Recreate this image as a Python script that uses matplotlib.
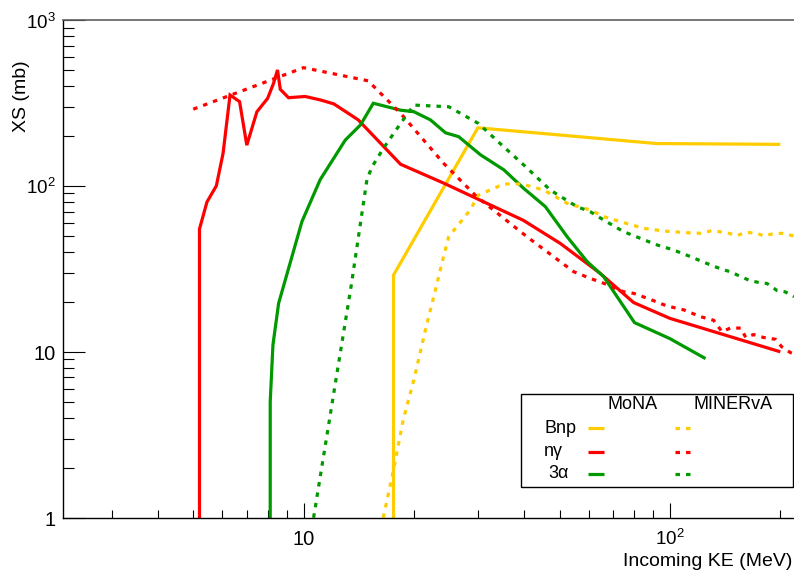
import matplotlib
matplotlib.use("Agg")
import matplotlib.pyplot as plt
from matplotlib.transforms import blended_transform_factory, ScaledTranslation
from matplotlib.ticker import LogLocator, NullFormatter
from matplotlib.lines import Line2D
from matplotlib.patches import Rectangle

plt.rcParams['font.family'] = ['Liberation Sans', 'DejaVu Sans']
plt.rcParams['mathtext.fontset'] = 'custom'
plt.rcParams['mathtext.rm'] = 'Liberation Sans'
plt.rcParams['mathtext.it'] = 'Liberation Sans:italic'
plt.rcParams['mathtext.bf'] = 'Liberation Sans:bold'

# ---------------- cross sections (mb) vs incoming kinetic energy (MeV) ----------------
# MoNA
mona_bnp_E = [17.6, 17.6, 29.9, 92.0, 200.0]
mona_bnp_xs = [0.01, 29.0, 224.0, 180.0, 178.0]

mona_ng_E = [5.2, 5.2, 5.45, 5.78, 6.03, 6.3, 6.69, 7.0, 7.46, 7.98, 8.28, 8.49, 8.64,
             9.1, 10.1, 11.1, 12.1, 14.1, 18.4, 24.1, 39.8, 50.2, 64.5, 79.6, 100.0, 200.0]
mona_ng_xs = [0.01, 55.0, 80.0, 100.0, 157.0, 353.0, 322.0, 176.0, 280.0, 337.0, 415.0, 500.0, 382.0,
              340.0, 346.0, 330.0, 312.0, 250.0, 135.0, 104.0, 62.0, 45.0, 29.7, 19.8, 15.9, 10.0]

mona_3a_E = [8.11, 8.11, 8.25, 8.55, 9.9, 11.1, 13.0, 14.3, 15.5, 18.4, 20.0, 22.2, 24.4, 26.5,
             30.4, 35.2, 39.8, 45.7, 52.4, 59.4, 65.9, 80.0, 100.0, 125.0]
mona_3a_xs = [0.01, 5.0, 11.0, 19.6, 61.0, 109.0, 189.0, 233.0, 315.0, 286.0, 280.0, 250.0, 209.0, 198.0,
              154.0, 125.0, 97.0, 75.0, 49.4, 35.0, 28.4, 15.0, 12.0, 9.1]

# MINERvA
minerva_bnp_E = [16.5, 17.6, 18.7, 20.0, 21.5, 22.9, 24.1, 24.9, 26.2, 28.5, 30.0, 35.2, 39.4,
                 45.2, 52.4, 60.6, 65.9, 74.7, 84.7, 96.0, 111.0, 121.0, 130.0, 143.0, 152.0,
                 161.0, 173.0, 180.0, 190.0, 202.0, 218.0]
minerva_bnp_xs = [1.0, 1.94, 3.88, 6.77, 13.5, 23.6, 37.5, 49.4, 56.8, 71.6, 88.0, 102.7, 102.7,
                  94.5, 78.5, 71.6, 65.3, 60.1, 55.5, 53.5, 52.2, 51.8, 53.7, 52.2, 50.1,
                  52.5, 51.8, 49.9, 51.3, 51.8, 49.9]

minerva_ng_E = [5.0, 10.0, 15.0, 18.4, 24.1, 29.7, 40.7, 54.6, 60.6, 65.9, 74.7, 79.6, 88.4,
                98.0, 109.0, 121.0, 131.5, 138.7, 146.0, 156.0, 161.0, 169.0, 180.0, 194.0,
                202.0, 213.0, 220.0]
minerva_ng_xs = [290.0, 516.0, 430.0, 274.0, 137.0, 86.0, 49.4, 30.4, 27.7, 25.9, 23.0, 22.5, 20.7,
                 18.9, 17.9, 16.3, 15.5, 13.2, 13.9, 13.9, 12.2, 12.7, 12.2, 11.9,
                 10.7, 9.9, 9.6]

minerva_3a_E = [10.65, 13.5, 14.9, 15.4, 16.5, 18.4, 20.0, 24.9, 30.0, 34.4, 40.3, 47.1, 55.7,
                60.6, 65.9, 74.7, 83.0, 92.1, 102.3, 113.6, 126.0, 138.7, 146.0, 156.0,
                165.6, 176.0, 184.0, 196.0, 206.0, 218.0]
minerva_3a_xs = [1.0, 25.3, 110.0, 131.0, 168.0, 238.0, 307.0, 300.0, 238.0, 180.0, 131.0, 94.5, 75.0,
                 69.9, 62.3, 53.0, 48.3, 44.1, 41.1, 37.5, 34.1, 31.4, 30.4, 28.4,
                 26.8, 26.1, 25.8, 23.4, 23.0, 21.5]

channels = ["Bnp", "n\u03b3", "3\u03b1"]
colors = ["#ffcc00", "#ff0000", "#009900"]
groups = ["MoNA", "MINERvA"]

x_tick_values = [10, 100]
x_tick_labels = ["10", r"$\mathregular{10^{2}}$"]
y_tick_values = [1, 10, 100, 1000]
y_tick_labels = ["1", "10", r"$\mathregular{10^{2}}$", r"$\mathregular{10^{3}}$"]

# ---------------- figure ----------------
W, H = 794, 575
fig = plt.figure(figsize=(W / 100, H / 100), dpi=100)
ax = fig.add_axes([62.6 / W, 1 - 517.7 / H, 1 - 62.6 / W, 497.7 / H])
ax.set_xscale("log")
ax.set_yscale("log")
ax.set_xlim(2.2, 218)
ax.set_ylim(1, 1000)

LW = 2.3
DASH = (1.4, 1.9)

mona = [(mona_bnp_E, mona_bnp_xs), (mona_ng_E, mona_ng_xs), (mona_3a_E, mona_3a_xs)]
minerva = [(minerva_bnp_E, minerva_bnp_xs), (minerva_ng_E, minerva_ng_xs),
           (minerva_3a_E, minerva_3a_xs)]

for (E, xs), c in zip(mona, colors):
    ax.plot(E, xs, color=c, lw=LW, solid_joinstyle="miter", solid_capstyle="butt")
for (E, xs), c in zip(minerva, colors):
    ax.plot(E, xs, color=c, lw=LW, dashes=DASH, dash_capstyle="butt", dash_joinstyle="miter")

# frame: ROOT-like, ticks pointing inward on left and bottom only
ax.spines["right"].set_visible(False)
ax.spines["top"].set_color("#606060")
ax.spines["top"].set_linewidth(1.2)
for s in ("left", "bottom"):
    ax.spines[s].set_color("black")
    ax.spines[s].set_linewidth(1.0)

ax.xaxis.set_major_locator(LogLocator(base=10))
ax.xaxis.set_minor_locator(LogLocator(base=10, subs=range(2, 10)))
ax.yaxis.set_major_locator(LogLocator(base=10))
ax.yaxis.set_minor_locator(LogLocator(base=10, subs=range(2, 10)))
ax.xaxis.set_minor_formatter(NullFormatter())
ax.yaxis.set_minor_formatter(NullFormatter())
ax.tick_params(axis="both", which="both", direction="in", top=False, right=False,
               labelbottom=False, labelleft=False, color="black", width=0.8)
ax.tick_params(axis="y", which="major", length=15.8)
ax.tick_params(axis="y", which="minor", length=7.9)
ax.tick_params(axis="x", which="major", length=10.8)
ax.tick_params(axis="x", which="minor", length=5.8)


def px_offset(dx, dy):
    return ScaledTranslation(dx / 100, dy / 100, fig.dpi_scale_trans)


xtr = blended_transform_factory(ax.transData, ax.transAxes)
for v, lab in zip(x_tick_values, x_tick_labels):
    fs = 13.5 if "$" in lab else 14.5
    ax.text(v, 0, lab, transform=xtr + px_offset(0, -27.3), ha="center", va="baseline",
            fontsize=fs)

ytr = blended_transform_factory(ax.transAxes, ax.transData)
for v, lab in zip(y_tick_values, y_tick_labels):
    fs = 13.5 if "$" in lab else 14.5
    ax.text(0, v, lab, transform=ytr + px_offset(-7.0, -8.5), ha="right", va="baseline",
            fontsize=fs)

fig.text(792 / W, 1 - 566 / H, "Incoming KE (MeV)", ha="right", va="baseline", fontsize=14)
fig.text(22 / W, 1 - 60 / H, "XS (mb)", rotation=90, ha="center", va="top", fontsize=14)


# ---------------- legend box ----------------
def fx(x):
    return x / W


def fy(y):
    return 1 - y / H


fig.add_artist(Rectangle((fx(521), fy(487)), fx(793) - fx(521), fy(394) - fy(487),
                         transform=fig.transFigure, facecolor="white", edgecolor="black",
                         lw=1.0, zorder=5))
fig.text(fx(607.3), fy(409.3), groups[0], ha="left", va="baseline", fontsize=13, zorder=6)
fig.text(fx(693.3), fy(409.3), groups[1], ha="left", va="baseline", fontsize=13, zorder=6)

row_base = [432.7, 455.5, 477.7]
row_line = [428.3, 451.7, 474.3]
row_left = [544.0, 544.0, 548.3]
for name, c, yb, yl, xl in zip(channels, colors, row_base, row_line, row_left):
    fig.text(fx(xl), fy(yb), name, ha="left", va="baseline", fontsize=13, zorder=6)
    fig.add_artist(Line2D([fx(588.3), fx(604.3)], [fy(yl), fy(yl)], transform=fig.transFigure,
                          color=c, lw=LW, solid_capstyle="butt", zorder=6))
    fig.add_artist(Line2D([fx(675), fx(690)], [fy(yl), fy(yl)], transform=fig.transFigure,
                          color=c, lw=LW, dashes=DASH, dash_capstyle="butt", zorder=6))

fig.savefig("out.png", dpi=100)
